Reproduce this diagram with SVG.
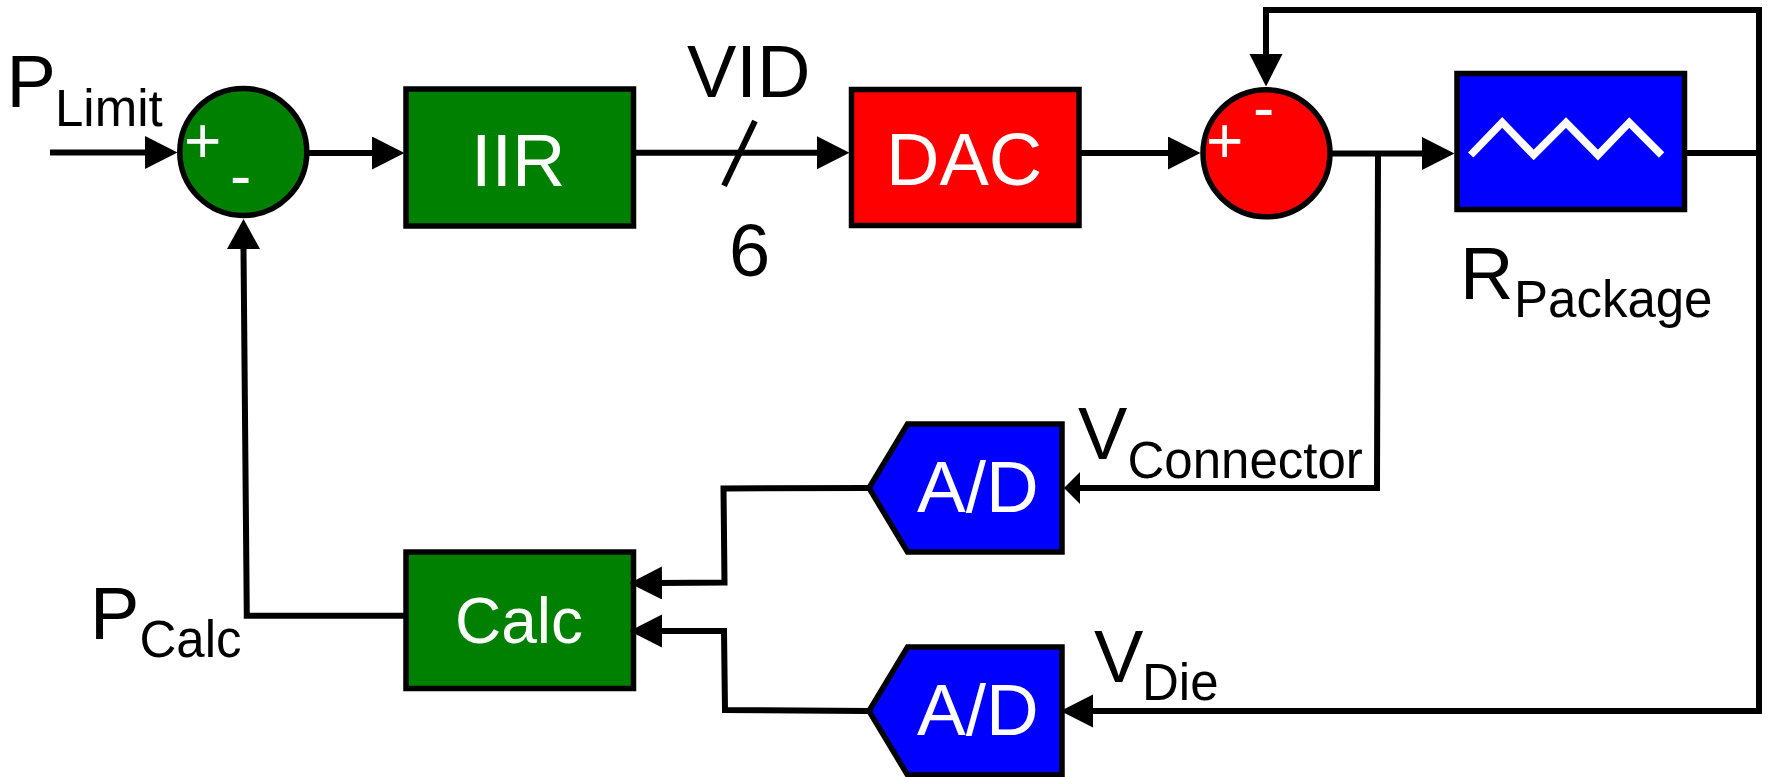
<svg xmlns="http://www.w3.org/2000/svg" width="1767" height="777" viewBox="0 0 1767 777">
<style>
text{font-family:"Liberation Sans",Arial,sans-serif;font-size:74px;fill:#000}
.sub{font-size:51px}
.w{fill:#fff}
.ad{font-size:73px}
.sign{font-size:64px;fill:#fff}
.box{stroke:#000;stroke-width:5.5}
.green{fill:#008000}.red{fill:#f00}.blue{fill:#00f}
.wire{fill:none;stroke:#000;stroke-width:6;stroke-linejoin:miter;stroke-linecap:square}
.arrow{marker-end:url(#a)}
.small{marker-end:url(#s)}
</style>
<defs>
<marker id="a" markerUnits="userSpaceOnUse" markerWidth="34" markerHeight="34" refX="1" refY="16.5" orient="auto"><path d="M0 0L32.500 16.500L0 33Z"/></marker>
<marker id="s" markerUnits="userSpaceOnUse" markerWidth="18" markerHeight="34" refX="1" refY="16" orient="auto"><path d="M0 0L16 16L0 32Z"/></marker>
</defs>
<g id="sum-limit">
<circle class="box green" cx="243.300" cy="152" r="63.500"/>
<text class="sign" x="184" y="163">+</text>
<text class="sign" x="230" y="198">-</text>
</g>
<g id="iir"><rect class="box green" x="406" y="89" width="227.500" height="137"/><text class="w" x="471" y="186">IIR</text></g>
<g id="dac"><rect class="box red" x="851.500" y="89.500" width="227.500" height="136"/><text class="w" x="886" y="185">DAC</text></g>
<g id="sum-package">
<circle class="box red" cx="1266.500" cy="153.300" r="63.500"/>
<text class="sign" x="1206" y="163">+</text>
<text class="sign" x="1253" y="130">-</text>
</g>
<g id="r-package">
<rect class="box blue" x="1457" y="73.500" width="227.500" height="136"/>
<path d="M1470.700 155L1502.200 122.500L1533.700 155L1566 122.500L1597.900 155L1629.300 122.500L1661.600 155" fill="none" stroke="#fff" stroke-width="7.500"/>
</g>
<g id="calc"><rect class="box green" x="406" y="552" width="227.500" height="136.500"/><text class="w" x="455" y="643" style="font-size:64px">Calc</text></g>
<g id="ad-connector"><path class="box blue" d="M869 488L907.500 424H1062V552H907.500Z"/><text class="w ad" x="917" y="512">A/D</text></g>
<g id="ad-die"><path class="box blue" d="M869 711L907.500 647H1062V775H907.500Z"/><text class="w ad" x="917" y="735">A/D</text></g>
<g id="connectors">
<path class="wire arrow" d="M53 152.500H146"/>
<path class="wire arrow" d="M309 153H373"/>
<path class="wire arrow" d="M636 152.700H818"/>
<path class="wire" d="M755 121L724 185.700" style="stroke-linecap:butt"/>
<path class="wire arrow" d="M1081 153H1169"/>
<path class="wire arrow" d="M1334 153.500H1423"/>
<path class="wire" d="M1687 153H1759"/>
<path class="wire arrow" d="M1759 10H1266V55"/>
<path class="wire" d="M1759 10V711"/>
<path class="wire arrow" d="M1759 711H1092"/>
<path class="wire small" d="M1378 154L1377 488H1079"/>
<path class="wire arrow" d="M866 488L723.500 488.500L724.500 582.500L661 583"/>
<path class="wire arrow" d="M866 711L725 710L724 631H661"/>
<path class="wire" d="M401 615.700H246.800L243.500 249"/>
<path d="M243.500 219L260 249H227Z"/>
</g>
<g id="labels">
<text x="6.500" y="107">P<tspan class="sub" x="55" y="126">Limit</tspan></text>
<text x="687" y="96.700">VID</text>
<text x="729" y="276">6</text>
<text x="1460" y="299">R<tspan class="sub" x="1514" y="317">Package</tspan></text>
<text x="1078" y="459">V<tspan class="sub" x="1127.500" y="478">Connector</tspan></text>
<text x="1094" y="682">V<tspan class="sub" x="1142" y="700">Die</tspan></text>
<text x="90" y="639">P<tspan class="sub" x="139.500" y="657">Calc</tspan></text>
</g>
</svg>
